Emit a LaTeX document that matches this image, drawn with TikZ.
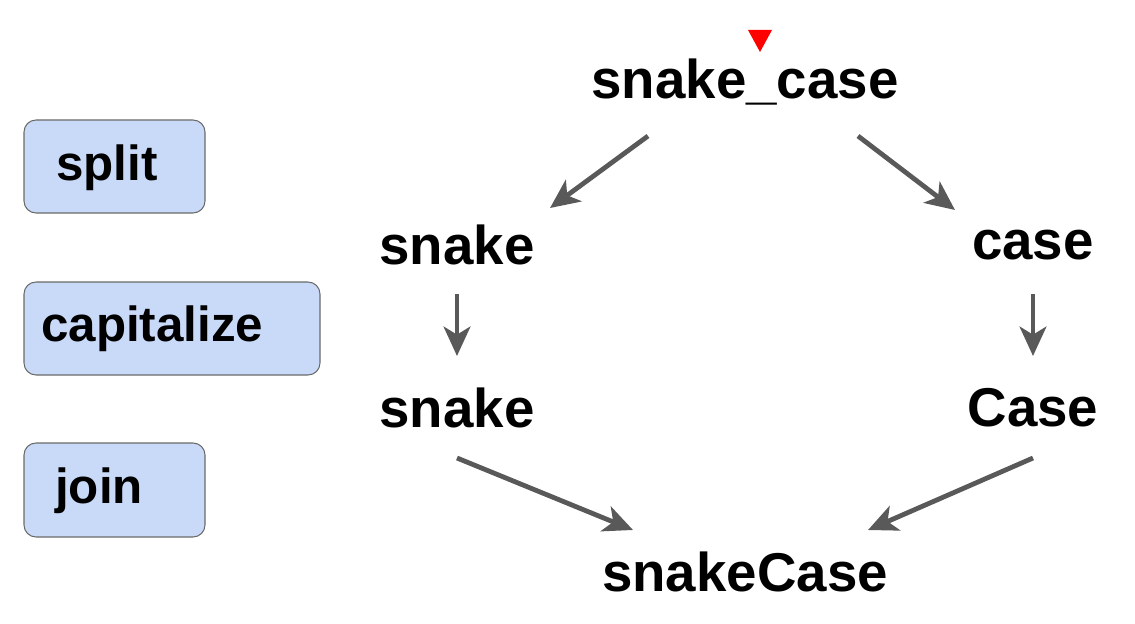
\documentclass[tikz,border=0pt]{standalone}
\usepackage{fontspec}
\setmainfont{Liberation Sans}
\usetikzlibrary{arrows.meta}
\definecolor{boxfill}{HTML}{C9DAF8}
\definecolor{arr}{HTML}{595959}
\begin{document}
\begin{tikzpicture}[x=0.75pt,y=-0.75pt,
  word/.style={font=\fontsize{41}{45}\selectfont\bfseries, inner sep=0pt},
  op/.style={draw=arr!90, line width=0.8pt, fill=boxfill, rounded corners=9pt},
  oplabel/.style={font=\fontsize{37}{40}\selectfont\bfseries, inner sep=0pt, anchor=west},
  flow/.style={draw=arr, line width=3.6pt, -{Stealth[length=22pt,width=20pt,inset=6pt]}}]
\useasboundingbox (0,0) rectangle (1135,624);
\draw[op] (24,120) rectangle (205,213);
\draw[op] (24,282) rectangle (320,375);
\draw[op] (24,443) rectangle (205,537);
\node[oplabel] (l1) at (56,168) {split};
\node[oplabel] (l2) at (41,329) {capitalize};
\node[oplabel] (l3) at (55,491) {join};
\node[word] (top) at (745,82) {snake\_case};
\node[word] (s1) at (457,245) {snake};
\node[word] (c1) at (1033,245) {case};
\node[word] (s2) at (457,408) {snake};
\node[word] (c2) at (1033,408) {Case};
\node[word] (bot) at (745,572) {snakeCase};
\fill[red] (748,30) -- (772,30) -- (760,52) -- cycle;
\coordinate (a1) at (648,136); \coordinate (b1) at (550,208);
\coordinate (a2) at (858,136); \coordinate (b2) at (955,210);
\coordinate (a3) at (457,294); \coordinate (b3) at (457,356);
\coordinate (a4) at (1033,294); \coordinate (b4) at (1033,356);
\coordinate (a5) at (457,458); \coordinate (b5) at (633,530);
\coordinate (a6) at (1033,458); \coordinate (b6) at (868,530);
\draw[flow] (a1) -- (b1);
\draw[flow] (a2) -- (b2);
\draw[flow] (a3) -- (b3);
\draw[flow] (a4) -- (b4);
\draw[flow] (a5) -- (b5);
\draw[flow] (a6) -- (b6);
\end{tikzpicture}
\end{document}
